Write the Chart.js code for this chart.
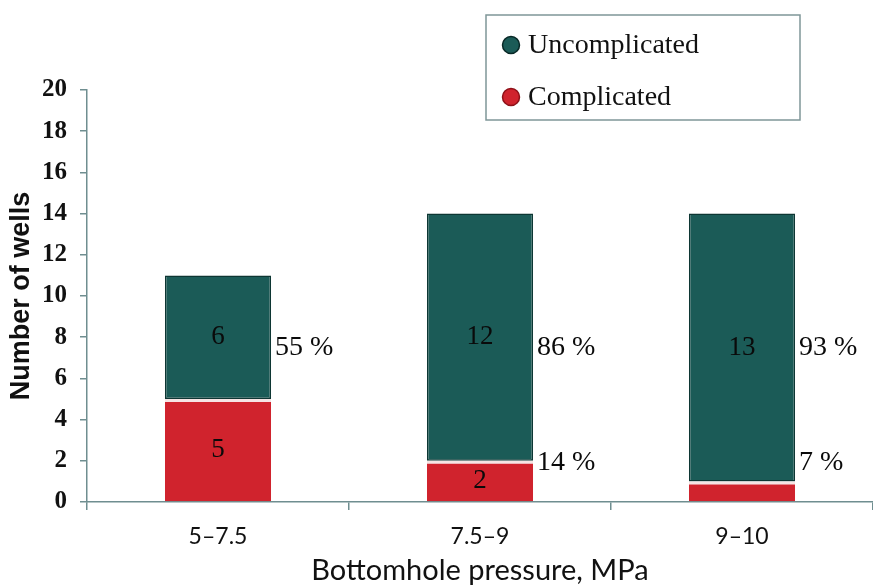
<!DOCTYPE html>
<html>
<head>
<meta charset="utf-8">
<script src="https://cdn.jsdelivr.net/npm/chart.js@4/dist/chart.umd.min.js"></script>
<style>
  html, body { margin: 0; padding: 0; background: #fff; }
  #wrap { width: 873px; height: 585px; position: relative; }
</style>
</head>
<body>
<div id="wrap"><canvas id="c" width="873" height="585"></canvas></div>
<script>
// Pressure ranges (MPa) and well counts per range
const categories = ['5\u20137.5', '7.5\u20139', '9\u201310'];
const complicated = [5, 2, 1];
const uncomplicated = [6, 12, 13];
// Share of each group, written beside the bars
const uncomplicatedShare = ['55 %', '86 %', '93 %'];
const complicatedShare = [null, '14 %', '7 %'];
const yTicks = [0, 2, 4, 6, 8, 10, 12, 14, 16, 18, 20];

const TEAL = '#1b5b57';
const TEAL_EDGE = '#0d3633';
const RED = '#d0232d';
const SERIF = "'Liberation Serif', 'DejaVu Serif', serif";
const SANS = "Lato, 'Liberation Sans', sans-serif";

// Value labels inside the segments and percentage labels to the right
const barLabels = {
  id: 'barLabels',
  afterDatasetsDraw(chart) {
    const ctx = chart.ctx;
    const y = chart.scales.y;
    ctx.save();
    ctx.fillStyle = '#0a0a0a';
    ctx.textAlign = 'center';
    ctx.textBaseline = 'middle';
    ctx.font = '27px ' + SERIF;
    chart.data.datasets.forEach((ds, di) => {
      chart.getDatasetMeta(di).data.forEach((el, i) => {
        const h = Math.abs(el.base - el.y);
        if (h < 30) return;
        ctx.fillText(String(ds.data[i]), el.x, (el.y + el.base) / 2);
      });
    });
    ctx.textAlign = 'left';
    ctx.font = '28px ' + SERIF;
    const meta = chart.getDatasetMeta(1);
    meta.data.forEach((el, i) => {
      const xr = el.x + el.width / 2 + 4;
      if (uncomplicatedShare[i]) ctx.fillText(uncomplicatedShare[i], xr, y.getPixelForValue(7.5));
      if (complicatedShare[i]) ctx.fillText(complicatedShare[i], xr, y.getPixelForValue(1.9));
    });
    ctx.restore();
  }
};

// Boxed legend with round markers, top series first
const boxLegend = {
  id: 'boxLegend',
  afterDraw(chart) {
    const ctx = chart.ctx;
    ctx.save();
    ctx.strokeStyle = '#7f9698';
    ctx.lineWidth = 1.5;
    ctx.strokeRect(486, 15, 314, 105);
    const items = chart.data.datasets.slice().reverse();
    ctx.font = '28px ' + SERIF;
    ctx.textBaseline = 'middle';
    ctx.textAlign = 'left';
    items.forEach((ds, k) => {
      const cy = 45 + k * 52;
      ctx.beginPath();
      ctx.arc(511, cy, 8.5, 0, Math.PI * 2);
      ctx.fillStyle = ds.backgroundColor;
      ctx.fill();
      ctx.lineWidth = 1.5;
      ctx.strokeStyle = ds.markerEdge;
      ctx.stroke();
      ctx.fillStyle = '#111';
      ctx.fillText(ds.label, 528, cy + 1);
    });
    ctx.restore();
  }
};

new Chart(document.getElementById('c'), {
  type: 'bar',
  data: {
    labels: categories,
    datasets: [
      {
        label: 'Complicated',
        data: complicated,
        backgroundColor: RED,
        markerEdge: '#8e1118',
        borderColor: '#f6e4e4',
        borderWidth: { top: 3, left: 0, right: 0, bottom: 0 },
        borderSkipped: false
      },
      {
        label: 'Uncomplicated',
        data: uncomplicated,
        backgroundColor: TEAL,
        markerEdge: '#082826',
        borderColor: TEAL_EDGE,
        borderWidth: 1.5,
        borderSkipped: false
      }
    ]
  },
  options: {
    responsive: false,
    animation: false,
    devicePixelRatio: 1,
    layout: { padding: { top: 90, right: 0, left: 0, bottom: 0 } },
    datasets: { bar: { categoryPercentage: 1, barPercentage: 0.405 } },
    plugins: { legend: { display: false }, tooltip: { enabled: false } },
    scales: {
      x: {
        stacked: true,
        afterFit(s) { s.height = 83; },
        border: { display: true, color: '#6f8e90', width: 1.5 },
        grid: { drawOnChartArea: false, drawTicks: true, tickLength: 8, offset: true, color: '#6f8e90', lineWidth: 1.5 },
        ticks: { color: '#111', font: { family: SANS, size: 23 }, padding: 13 },
        title: {
          display: true,
          text: 'Bottomhole pressure, MPa',
          color: '#111',
          font: { family: SANS, size: 29, lineHeight: 1 },
          padding: 0
        }
      },
      y: {
        stacked: true,
        min: 0,
        max: 20,
        afterFit(s) { s.width = 87; },
        afterBuildTicks(s) { s.ticks = yTicks.map(v => ({ value: v })); },
        border: { display: true, color: '#6f8e90', width: 1.5 },
        grid: { drawOnChartArea: false, drawTicks: true, tickLength: 7, color: '#6f8e90', lineWidth: 1.5 },
        ticks: { color: '#111', font: { family: SERIF, size: 25, weight: 'bold' }, padding: 13 },
        title: {
          display: true,
          text: 'Number of wells',
          color: '#111',
          font: { family: "'Liberation Sans', Arial, sans-serif", size: 27, weight: 'bold', lineHeight: 1 },
          padding: { top: 8, bottom: 0 }
        }
      }
    }
  },
  plugins: [barLabels, boxLegend]
});
</script>
</body>
</html>
